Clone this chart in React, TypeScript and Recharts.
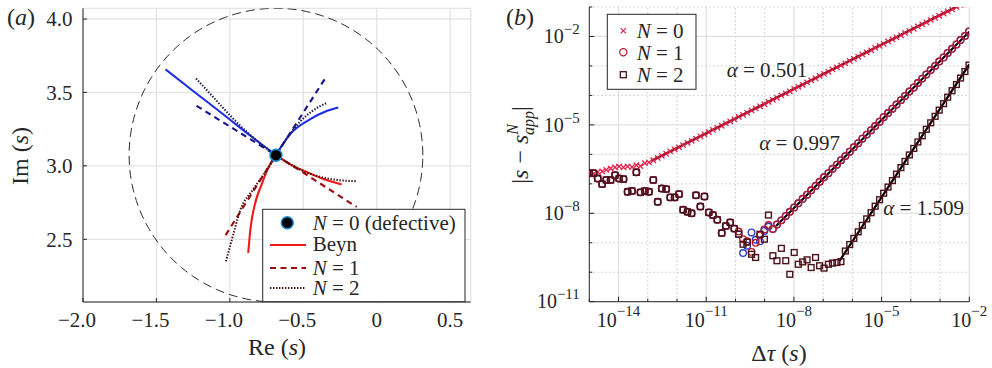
import React from "react";
import {
  ComposedChart,
  Line,
  Scatter,
  XAxis,
  YAxis,
  CartesianGrid,
  ReferenceLine,
} from "recharts";

const FONT = '"Liberation Serif", serif';
const INK = "#262626";
const MINUS = "\u2212";

/* ---------------- (a) branches around the defective eigenvalue ---------------- */

const RE_TICKS = [-2, -1.5, -1, -0.5, 0, 0.5];
const RE_LABELS = ["−2.0", "−1.5", "−1.0", "−0.5", "0", "0.5"];
const IM_TICKS = [2.5, 3, 3.5, 4];
const IM_LABELS = ["2.5", "3.0", "3.5", "4.0"];

const S_DEFECTIVE = [[-0.686, 3.073]];
const CONTOUR_CENTER = [-0.686, 3.073];
const CONTOUR_RADIUS = 1.0;

// [Re, Im]
const UL_BEYN = [[-1.438, 3.657], [-1.25, 3.51], [-1.05, 3.355], [-0.86, 3.205], [-0.686, 3.073]];
const UL_N1 = [[-1.227, 3.409], [-0.686, 3.073]];
const UL_N2 = [[-1.23, 3.595], [-1.115, 3.47], [-1.0, 3.345], [-0.85, 3.2], [-0.686, 3.073]];

const UR_BEYN = [[-0.686, 3.073], [-0.648, 3.135], [-0.591, 3.214], [-0.455, 3.316], [-0.341, 3.373], [-0.262, 3.397]];
const UR_N1 = [[-0.686, 3.073], [-0.341, 3.611]];
const UR_N2 = [[-0.686, 3.073], [-0.62, 3.175], [-0.523, 3.3], [-0.43, 3.38], [-0.337, 3.43]];

const LR_BEYN = [[-0.686, 3.073], [-0.591, 3.012], [-0.477, 2.958], [-0.364, 2.911], [-0.296, 2.89], [-0.239, 2.873]];
const LR_N1 = [[-0.686, 3.073], [-0.136, 2.72]];
const LR_N2 = [[-0.686, 3.073], [-0.591, 3.012], [-0.477, 2.955], [-0.364, 2.92], [-0.25, 2.902], [-0.136, 2.896]];

const LL_BEYN = [[-0.875, 2.407], [-0.859, 2.577], [-0.83, 2.737], [-0.784, 2.873], [-0.739, 2.986], [-0.686, 3.073]];
const LL_N1 = [[-1.029, 2.528], [-0.686, 3.073]];
const LL_N2 = [[-1.027, 2.35], [-0.98, 2.52], [-0.932, 2.69], [-0.841, 2.84], [-0.76, 2.955], [-0.686, 3.073]];

const BLUE = { beyn: "#1e2ee8", n1: "#16168a", n2: "#1c1c4e" };
const RED = { beyn: "#f21818", n1: "#990d0d", n2: "#4a0e0e" };

const BRANCHES = [
  { beyn: UL_BEYN, n1: UL_N1, n2: UL_N2, tone: BLUE },
  { beyn: UR_BEYN, n1: UR_N1, n2: UR_N2, tone: BLUE },
  { beyn: LR_BEYN, n1: LR_N1, n2: LR_N2, tone: RED },
  { beyn: LL_BEYN, n1: LL_N1, n2: LL_N2, tone: RED },
];

/* ---------------- (b) convergence of the approximations ---------------- */

// log10 of the time step, one entry per sample
const DT_EXP = [
  -15.0, -14.85, -14.71, -14.56, -14.42, -14.27, -14.12, -13.98, -13.83, -13.69,
  -13.54, -13.39, -13.25, -13.1, -12.96, -12.81, -12.66, -12.52, -12.37, -12.23,
  -12.08, -11.93, -11.79, -11.64, -11.5, -11.35, -11.2, -11.06, -10.91, -10.77,
  -10.62, -10.47, -10.33, -10.18, -10.04, -9.89, -9.74, -9.6, -9.45, -9.31,
  -9.16, -9.01, -8.87, -8.72, -8.58, -8.43, -8.28, -8.14, -7.99, -7.85,
  -7.7, -7.55, -7.41, -7.26, -7.12, -6.97, -6.82, -6.68, -6.53, -6.39,
  -6.24, -6.09, -5.95, -5.8, -5.66, -5.51, -5.36, -5.22, -5.07, -4.93,
  -4.78, -4.63, -4.49, -4.34, -4.2, -4.05, -3.9, -3.76, -3.61, -3.47,
  -3.32, -3.17, -3.03, -2.88, -2.74, -2.59, -2.44, -2.3, -2.15, -2.01,
];

// log10 of the error
const N0_NOISE = [-6.62, -6.66, -6.6, -6.58, -6.53, -6.48, -6.44, -6.41, -6.44, -6.41, -6.43, -6.37, -6.4, -6.3];
const N0_SLOPE = [
  -6.27, -6.2, -6.12, -6.05, -5.98, -5.9, -5.83, -5.76, -5.69, -5.61, -5.54, -5.47, -5.39, -5.32, -5.25, -5.17,
  -5.1, -5.03, -4.95, -4.88, -4.81, -4.73, -4.66, -4.59, -4.51, -4.44, -4.37, -4.3, -4.22, -4.15, -4.08, -4.0,
  -3.93, -3.86, -3.78, -3.71, -3.64, -3.56, -3.49, -3.42, -3.34, -3.27, -3.2, -3.12, -3.05, -2.98, -2.91, -2.83,
  -2.76, -2.69, -2.61, -2.54, -2.47, -2.39, -2.32, -2.25, -2.17, -2.1, -2.03, -1.96, -1.88, -1.81, -1.74, -1.66,
  -1.59, -1.52, -1.44, -1.37, -1.3, -1.22, -1.15, -1.08, -1.0, -0.93, -0.86, -0.78,
];

// round-off floor shared by N = 1 and N = 2
const NOISE_FLOOR = [
  -6.64, -6.64, -6.82, -7.01, -6.87, -6.87, -6.71, -6.82, -6.84, -7.27, -7.24, -6.61, -7.29, -7.24, -7.27, -6.87,
  -7.61, -7.16, -7.18, -7.46, -7.46, -7.35, -7.88, -7.95, -8.0, -7.39, -7.77, -7.43, -7.97, -8.06, -8.22, -8.67,
  -8.43, -8.31, -8.52,
];
const N1_RED_DIP = [-8.62, -8.88, -8.95, -9.31, -9.0, -8.75, -8.55, -8.4];
const N1_BLUE_DIP = [-8.71, -9.35, -9.1, -8.65, -8.9, -8.95, -8.6, -8.45];
const N1_SLOPE = [
  -8.53, -8.38, -8.24, -8.09, -7.95, -7.8, -7.66, -7.51, -7.37, -7.22, -7.07, -6.93, -6.78, -6.64, -6.49, -6.35,
  -6.2, -6.06, -5.91, -5.76, -5.62, -5.47, -5.33, -5.18, -5.04, -4.89, -4.74, -4.6, -4.45, -4.31, -4.16, -4.02,
  -3.87, -3.73, -3.58, -3.43, -3.29, -3.14, -3.0, -2.85, -2.71, -2.56, -2.42, -2.27, -2.12, -1.98, -1.83,
];
const N2_DIP = [-8.71, -9.05, -8.98, -9.39, -9.5, -8.71, -8.88, -8.06];
const N2_FLOOR = [-9.44, -9.61, -9.19, -9.61, -10.07, -9.33, -9.73, -9.65, -9.58, -9.84, -9.5, -9.78, -9.86, -9.73, -9.69, -9.67, -9.64];
const N2_SLOPE = [
  -9.28, -9.06, -8.85, -8.63, -8.41, -8.19, -7.98, -7.76, -7.54, -7.32, -7.11, -6.89, -6.67, -6.45, -6.24,
  -6.02, -5.8, -5.58, -5.37, -5.15, -4.93, -4.71, -4.5, -4.28, -4.06, -3.84, -3.63, -3.41, -3.19, -2.97,
];

// fitted power laws, [log10 dt, log10 err]
const FIT_N0 = [[-12.87, -6.22], [-2.0, -0.77]];
const FIT_N1 = [[-8.61, -8.43], [-2.0, -1.84]];
const FIT_N2 = [[-6.45, -9.63], [-2.0, -2.95]];

const DT_DECADES = [-15, -14, -13, -12, -11, -10, -9, -8, -7, -6, -5, -4, -3, -2];
const ERR_DECADES = [-11, -10, -9, -8, -7, -6, -5, -4, -3, -2, -1];
const DT_LABEL_EXP = [-14, -11, -8, -5, -2];
const ERR_LABEL_EXP = [-11, -8, -5, -2];

const C_N0 = "#e41e46";
const C_N1 = "#b41a2a";
const C_N1_BLUE = "#2b3fd4";
const C_N2 = "#4a1219";

/* ---------------- helpers ---------------- */

const pts = (a: number[][]) => a.map(([x, y]) => ({ x, y }));
const logPts = (a: number[][]) => a.map(([x, y]) => ({ x: 10 ** x, y: 10 ** y }));
const series = (ys: number[]) => ys.map((e, i) => ({ x: 10 ** DT_EXP[i], y: 10 ** e }));

const contour = Array.from({ length: 181 }, (_, i) => {
  const t = (2 * Math.PI * i) / 180;
  return {
    x: CONTOUR_CENTER[0] + CONTOUR_RADIUS * Math.cos(t),
    y: CONTOUR_CENTER[1] + CONTOUR_RADIUS * Math.sin(t),
  };
});

const txt = { fontFamily: FONT, fill: INK };
const it = { fontStyle: "italic" as const };

function ReTick(props: any) {
  const { x, y, payload } = props;
  const v = payload.value;
  return (
    <g>
      <line x1={x} x2={x} y1={y} y2={y - 4} stroke={INK} />
      <text x={x} y={y + 25} dx={v < 0 ? -6 : 0} textAnchor="middle" fontSize={21} {...txt}>
        {RE_LABELS[RE_TICKS.indexOf(v)]}
      </text>
    </g>
  );
}

function ImTick(props: any) {
  const { x, y, payload } = props;
  return (
    <g>
      <line x1={x} x2={x + 4} y1={y} y2={y} stroke={INK} />
      <text x={x - 10.5} y={y + 7.3} textAnchor="end" fontSize={21} {...txt}>
        {IM_LABELS[IM_TICKS.indexOf(payload.value)]}
      </text>
    </g>
  );
}

const topTick = (len: number) => (props: any) => (
  <line x1={props.x} x2={props.x} y1={props.y} y2={props.y + len} stroke={INK} />
);
const rightTick = (len: number) => (props: any) => (
  <line x1={props.x} x2={props.x - len} y1={props.y} y2={props.y} stroke={INK} />
);

const exp10 = (v: number) => Math.round(Math.log10(v));

function DtTick(props: any) {
  const { x, y, payload } = props;
  const e = exp10(payload.value);
  const major = DT_LABEL_EXP.includes(e);
  return (
    <g>
      <line x1={x} x2={x} y1={y} y2={y - (major ? 5 : 3)} stroke={INK} />
      {major && (
        <text x={x} y={y + 25} textAnchor="middle" fontSize={20} {...txt}>
          10
          <tspan dy={-11} fontSize={15}>{MINUS + Math.abs(e)}</tspan>
        </text>
      )}
    </g>
  );
}

function ErrTick(props: any) {
  const { x, y, payload } = props;
  const e = exp10(payload.value);
  const major = ERR_LABEL_EXP.includes(e);
  return (
    <g>
      <line x1={x} x2={x + (major ? 5 : 3)} y1={y} y2={y} stroke={INK} />
      {major && (
        <text x={x - 9.5} y={y + 6.7} textAnchor="end" fontSize={20} {...txt}>
          10
          <tspan dy={-9} fontSize={15}>{MINUS + Math.abs(e)}</tspan>
        </text>
      )}
    </g>
  );
}

const dtTop = (props: any) => {
  const major = DT_LABEL_EXP.includes(exp10(props.payload.value));
  return <line x1={props.x} x2={props.x} y1={props.y} y2={props.y + (major ? 5 : 3)} stroke={INK} />;
};
const errRight = (props: any) => {
  const major = ERR_LABEL_EXP.includes(exp10(props.payload.value));
  return <line x1={props.x} x2={props.x - (major ? 5 : 3)} y1={props.y} y2={props.y} stroke={INK} />;
};

const cross = (color: string) => (p: any) => (
  <path
    d={`M${p.cx - 2.7},${p.cy - 2.7}L${p.cx + 2.7},${p.cy + 2.7}M${p.cx - 2.7},${p.cy + 2.7}L${p.cx + 2.7},${p.cy - 2.7}`}
    stroke={color}
    strokeWidth={1.25}
    fill="none"
  />
);
const ring = (color: string) => (p: any) => (
  <circle cx={p.cx} cy={p.cy} r={3.3} stroke={color} strokeWidth={1.35} fill="none" />
);
const box = (color: string) => (p: any) => (
  <rect x={p.cx - 2.9} y={p.cy - 2.9} width={5.8} height={5.8} stroke={color} strokeWidth={1.4} fill="none" />
);
const defectiveDot = (p: any) => (
  <circle cx={p.cx} cy={p.cy} r={6} fill="#000" stroke="#1b8fd6" strokeWidth={1.5} />
);

/* ---------------- panels ---------------- */

function PanelA() {
  const lineStyle = {
    beyn: { strokeWidth: 2.1 },
    n1: { strokeWidth: 2.1, strokeDasharray: "6 4.5" },
    n2: { strokeWidth: 2.1, strokeDasharray: "1.4 1.6" },
  } as const;
  const methods: ("beyn" | "n1" | "n2")[] = ["beyn", "n1", "n2"];
  return (
    <ComposedChart width={480} height={368} margin={{ top: 8.3, right: 9.3, bottom: 26, left: 23 }}>
      <CartesianGrid stroke="#e4e4e4" strokeWidth={1.3} />
      <XAxis
        xAxisId={0}
        type="number"
        dataKey="x"
        domain={[-2, 0.64]}
        ticks={RE_TICKS}
        allowDataOverflow
        height={40}
        tickSize={0}
        tickMargin={0}
        tickLine={false}
        axisLine={{ stroke: INK }}
        tick={ReTick}
      />
      <XAxis
        xAxisId="top"
        orientation="top"
        type="number"
        domain={[-2, 0.64]}
        ticks={RE_TICKS}
        allowDataOverflow
        height={0}
        tickSize={0}
        tickMargin={0}
        tickLine={false}
        axisLine={{ stroke: INK }}
        tick={topTick(4)}
      />
      <YAxis
        yAxisId={0}
        type="number"
        dataKey="y"
        domain={[2.073, 4.073]}
        ticks={IM_TICKS}
        allowDataOverflow
        width={60}
        tickSize={0}
        tickMargin={0}
        tickLine={false}
        axisLine={{ stroke: INK }}
        tick={ImTick}
      />
      <YAxis
        yAxisId="right"
        orientation="right"
        type="number"
        domain={[2.073, 4.073]}
        ticks={IM_TICKS}
        allowDataOverflow
        width={0}
        tickSize={0}
        tickMargin={0}
        tickLine={false}
        axisLine={{ stroke: INK }}
        tick={rightTick(4)}
      />
      <Line
        data={contour}
        dataKey="y"
        type="linear"
        stroke="#2a2a2a"
        strokeWidth={1}
        strokeDasharray="9 5"
        dot={false}
        activeDot={false}
        isAnimationActive={false}
      />
      {methods.map((m) =>
        BRANCHES.map((b, i) => (
          <Line
            key={m + i}
            data={pts(b[m])}
            dataKey="y"
            type="monotone"
            stroke={b.tone[m]}
            {...lineStyle[m]}
            dot={false}
            activeDot={false}
            isAnimationActive={false}
          />
        ))
      )}
      <Scatter data={pts(S_DEFECTIVE)} shape={defectiveDot} isAnimationActive={false} />
    </ComposedChart>
  );
}

function PanelB() {
  const dtDomain = [1e-15, 1e-2];
  const errDomain = [1e-11, 1e-1];
  const dtTicks = DT_DECADES.map((e) => 10 ** e);
  const errTicks = ERR_DECADES.map((e) => 10 ** e);
  const n1Red = [...NOISE_FLOOR, ...N1_RED_DIP, ...N1_SLOPE];
  const n1Blue = [...NOISE_FLOOR, ...N1_BLUE_DIP, ...N1_SLOPE];
  const n2 = [...NOISE_FLOOR, ...N2_DIP, ...N2_FLOOR, ...N2_SLOPE];
  const n0 = [...N0_NOISE, ...N0_SLOPE];
  const fitLine = (d: number[][], k: string) => (
    <Line
      key={k}
      data={logPts(d)}
      dataKey="y"
      type="linear"
      stroke="#000"
      strokeWidth={2.2}
      dot={false}
      activeDot={false}
      isAnimationActive={false}
    />
  );
  return (
    <ComposedChart width={500} height={368} margin={{ top: 7, right: 22.7, bottom: 26.3, left: 37.3 }}>
      {DT_DECADES.map((e) => (
        <ReferenceLine
          key={"gx" + e}
          x={10 ** e}
          stroke={DT_LABEL_EXP.includes(e) ? "#e2e2e2" : "#c8c8c8"}
          strokeWidth={DT_LABEL_EXP.includes(e) ? 1.3 : 1}
          strokeDasharray={DT_LABEL_EXP.includes(e) ? undefined : "1.5 2.5"}
        />
      ))}
      {ERR_DECADES.map((e) => (
        <ReferenceLine
          key={"gy" + e}
          y={10 ** e}
          stroke={ERR_LABEL_EXP.includes(e) ? "#e2e2e2" : "#c8c8c8"}
          strokeWidth={ERR_LABEL_EXP.includes(e) ? 1.3 : 1}
          strokeDasharray={ERR_LABEL_EXP.includes(e) ? undefined : "1.5 2.5"}
        />
      ))}
      <XAxis
        xAxisId={0}
        type="number"
        dataKey="x"
        scale="log"
        domain={dtDomain}
        ticks={dtTicks}
        allowDataOverflow
        height={40}
        tickSize={0}
        tickMargin={0}
        tickLine={false}
        axisLine={{ stroke: INK }}
        tick={DtTick}
        interval={0}
      />
      <XAxis
        xAxisId="top"
        orientation="top"
        type="number"
        scale="log"
        domain={dtDomain}
        ticks={dtTicks}
        allowDataOverflow
        height={0}
        tickSize={0}
        tickMargin={0}
        tickLine={false}
        axisLine={{ stroke: INK }}
        tick={dtTop}
        interval={0}
      />
      <YAxis
        yAxisId={0}
        type="number"
        dataKey="y"
        scale="log"
        domain={errDomain}
        ticks={errTicks}
        allowDataOverflow
        width={60}
        tickSize={0}
        tickMargin={0}
        tickLine={false}
        axisLine={{ stroke: INK }}
        tick={ErrTick}
        interval={0}
      />
      <YAxis
        yAxisId="right"
        orientation="right"
        type="number"
        scale="log"
        domain={errDomain}
        ticks={errTicks}
        allowDataOverflow
        width={0}
        tickSize={0}
        tickMargin={0}
        tickLine={false}
        axisLine={{ stroke: INK }}
        tick={errRight}
        interval={0}
      />
      <Scatter data={series(n0)} shape={cross(C_N0)} isAnimationActive={false} />
      <Scatter data={series(n1Blue)} shape={ring(C_N1_BLUE)} isAnimationActive={false} />
      <Scatter data={series(n1Red)} shape={ring(C_N1)} isAnimationActive={false} />
      <Scatter data={series(n2)} shape={box(C_N2)} isAnimationActive={false} />
      {fitLine(FIT_N0, "f0")}
      {fitLine(FIT_N1, "f1")}
      {fitLine(FIT_N2, "f2")}
    </ComposedChart>
  );
}

/* ---------------- text, legends ---------------- */

function Overlay() {
  return (
    <svg
      width={992}
      height={368}
      style={{ position: "absolute", left: 0, top: 0, pointerEvents: "none" }}
    >
      <text x={7} y={25} fontSize={24} {...txt}>
        (<tspan {...it}>a</tspan>)
      </text>
      <text x={506} y={25} fontSize={24} {...txt}>
        (<tspan {...it}>b</tspan>)
      </text>
      <text x={277} y={355} textAnchor="middle" fontSize={24} {...txt}>
        Re (<tspan {...it}>s</tspan>)
      </text>
      <text transform="translate(28,156) rotate(-90)" textAnchor="middle" fontSize={24} {...txt}>
        Im (<tspan {...it}>s</tspan>)
      </text>
      <text x={779} y={361} textAnchor="middle" fontSize={24} {...txt}>
        Δ<tspan {...it}>τ</tspan> (<tspan {...it}>s</tspan>)
      </text>
      <text transform="translate(528,145) rotate(-90)" textAnchor="middle" fontSize={24} {...txt}>
        |<tspan {...it}>s</tspan>
        {` ${MINUS} `}
        <tspan {...it}>s</tspan>
        <tspan {...it} fontSize={16} dy={-10}>N</tspan>
        <tspan {...it} fontSize={16} dx={-11} dy={16}>app</tspan>
        <tspan dy={-6}>|</tspan>
      </text>

      <text x={726.7} y={76.5} fontSize={21} {...txt}>
        <tspan {...it}>α</tspan> = 0.501
      </text>
      <text x={759.3} y={150} fontSize={21} {...txt}>
        <tspan {...it}>α</tspan> = 0.997
      </text>
      <text x={883.3} y={215} fontSize={21} {...txt}>
        <tspan {...it}>α</tspan> = 1.509
      </text>

      {/* legend (a) */}
      <g transform="translate(262.7,209.3)">
        <rect x={0} y={0} width={202.3} height={92.4} fill="#fff" stroke={INK} strokeWidth={1} />
        <circle cx={24.6} cy={13.4} r={6} fill="#000" stroke="#1b8fd6" strokeWidth={1.5} />
        <line x1={7.3} x2={43.3} y1={35.7} y2={35.7} stroke={RED.beyn} strokeWidth={2.1} />
        <line x1={7.3} x2={43.3} y1={58.7} y2={58.7} stroke={RED.n1} strokeWidth={2.1} strokeDasharray="6 4.5" />
        <line x1={7.3} x2={43.3} y1={78.7} y2={78.7} stroke={RED.n2} strokeWidth={2.1} strokeDasharray="1.4 1.6" />
        <text x={50} y={20.7} fontSize={21} {...txt}>
          <tspan {...it}>N</tspan> = 0 (defective)
        </text>
        <text x={50} y={42.2} fontSize={21} {...txt}>Beyn</text>
        <text x={50} y={65.4} fontSize={21} {...txt}>
          <tspan {...it}>N</tspan> = 1
        </text>
        <text x={50} y={85.7} fontSize={21} {...txt}>
          <tspan {...it}>N</tspan> = 2
        </text>
      </g>

      {/* legend (b) */}
      <g transform="translate(607.3,14.3)">
        <rect x={0} y={0} width={88.7} height={75} fill="#fff" stroke={INK} strokeWidth={1} />
        <path d="M13.4,13.8L18.6,19M13.4,19L18.6,13.8" stroke={C_N0} strokeWidth={1.2} fill="none" />
        <circle cx={16} cy={38} r={3.6} stroke={C_N1} strokeWidth={1.2} fill="none" />
        <rect x={13} y={57.4} width={6} height={6} stroke={C_N2} strokeWidth={1.3} fill="none" />
        <text x={29.4} y={23.7} fontSize={21} {...txt}>
          <tspan {...it}>N</tspan> = 0
        </text>
        <text x={29.4} y={45.3} fontSize={21} {...txt}>
          <tspan {...it}>N</tspan> = 1
        </text>
        <text x={29.4} y={67.7} fontSize={21} {...txt}>
          <tspan {...it}>N</tspan> = 2
        </text>
      </g>
    </svg>
  );
}

export default function App() {
  return (
    <div
      style={{
        position: "absolute",
        left: 0,
        top: 0,
        width: 992,
        height: 368,
        background: "#fff",
        overflow: "hidden",
      }}
    >
      <div style={{ position: "absolute", left: 0, top: 0 }}>
        <PanelA />
      </div>
      <div style={{ position: "absolute", left: 492, top: 0 }}>
        <PanelB />
      </div>
      <Overlay />
    </div>
  );
}
